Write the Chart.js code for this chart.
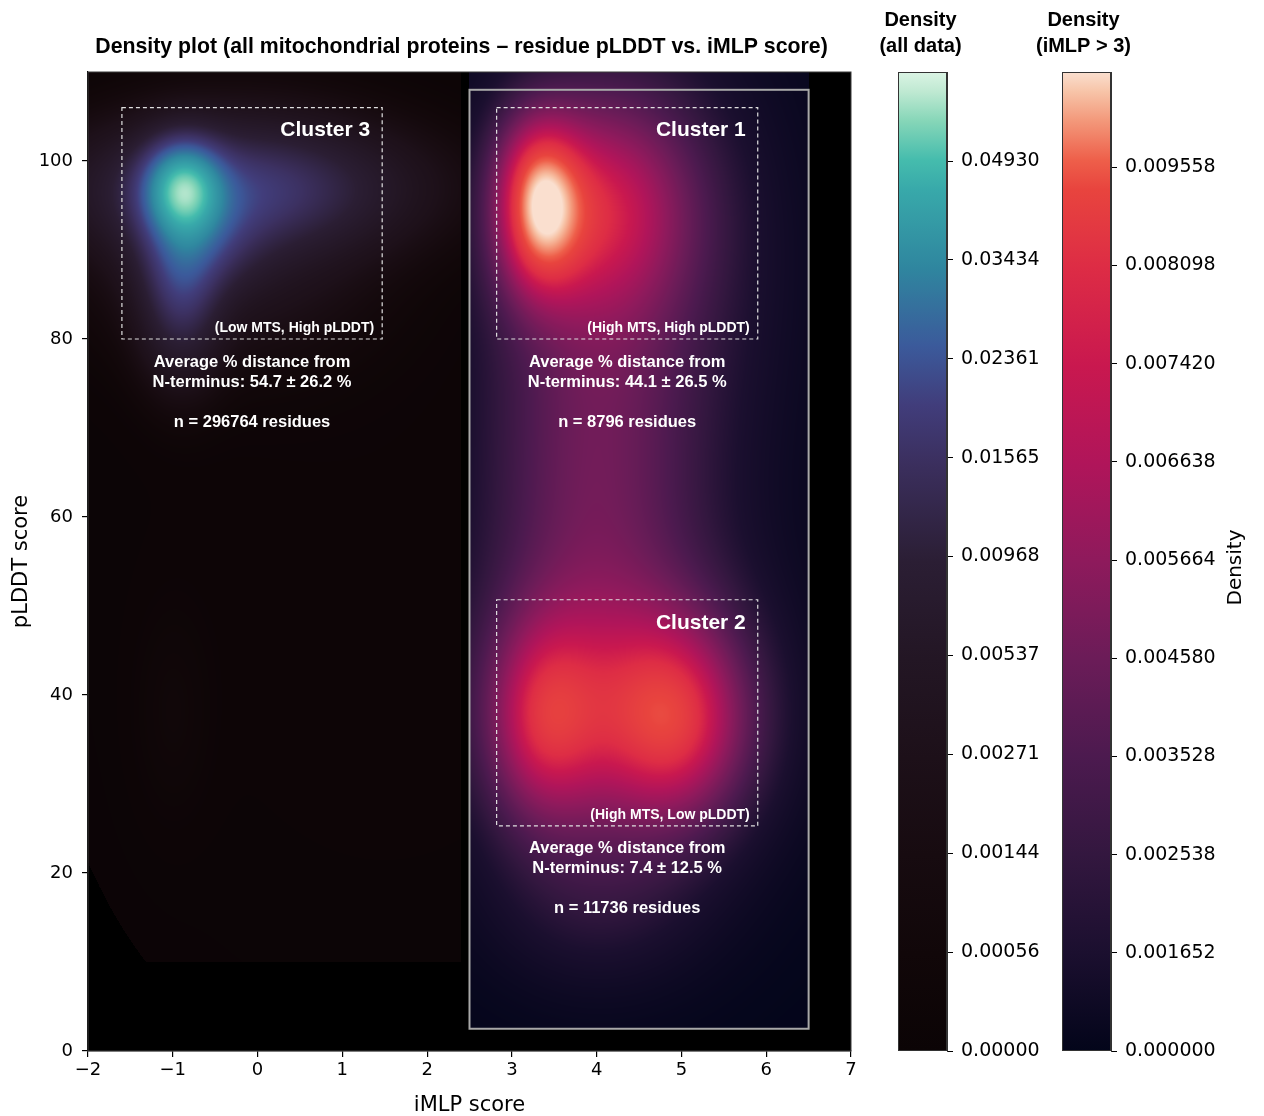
<!DOCTYPE html>
<html>
<head>
<meta charset="utf-8">
<script src="https://cdn.jsdelivr.net/npm/chart.js@4.4.1/dist/chart.umd.min.js"></script>
<style>
  html, body { margin: 0; padding: 0; background: #fff; }
  #wrap { position: relative; width: 1264px; height: 1116px; }
  canvas { position: absolute; top: 0; }
  #main { left: 0; }
  #cbAll { left: 860px; }
  #cbMlp { left: 1000px; }
</style>
</head>
<body>
<div id="wrap">
  <canvas id="main" width="880" height="1116"></canvas>
  <canvas id="cbAll" width="190" height="1116"></canvas>
  <canvas id="cbMlp" width="264" height="1116"></canvas>
</div>
<script>
// Axis ranges
const xRange = [-2, 7];
const yRange = [0, 110];
const plotTitle = 'Density plot (all mitochondrial proteins \u2013 residue pLDDT vs. iMLP score)';

// Colour bar levels (tick labels, equally spaced on the bar)
const allTicks = [0, 0.00056, 0.00144, 0.00271, 0.00537, 0.00968, 0.01565, 0.02361, 0.03434, 0.04930];
const mlpTicks = [0, 0.001652, 0.002538, 0.003528, 0.004580, 0.005664, 0.006638, 0.007420, 0.008098, 0.009558];
const allTop = 9.9;   // bar top, in level units
const mlpTop = 9.97;

// Density blobs - all data (x, y, spread x, spread y, peak)
const allBlobX    = [-0.88, -0.2, -0.7, -0.9, -0.3, -1.0, 1.5];
const allBlobY    = [97, 97, 91, 86, 92, 38, 60];
const allBlobSX   = [0.3, 1.2, 0.45, 0.3, 1.0, 0.3, 3.0];
const allBlobSY   = [3.4, 4.5, 4, 6, 8, 8, 45];
const allBlobPeak = [0.036, 0.015, 0.010, 0.014, 0.005, 0.0004, 0.0002];
const allCut = 0.00007;
const allClipX = [-2, 2.4];
const allClipY = [10, 110];

// Density blobs - iMLP > 3
const mlpBlobX    = [3.3, 3.3, 4.05, 4.3, 3.9, 3.35, 5.0, 4.15, 4.2, 4.0];
const mlpBlobY    = [98.5, 91, 95, 87, 64, 37, 37, 37.5, 38, 16];
const mlpBlobSX   = [0.36, 0.36, 0.8, 1.3, 0.9, 0.45, 0.6, 1.15, 1.4, 0.9];
const mlpBlobSY   = [5.5, 5.5, 9, 22, 15, 8, 8, 11, 16, 7];
const mlpBlobPeak = [0.0042, 0.0034, 0.0048, 0.0028, 0.0026, 0.0036, 0.0042, 0.0040, 0.0015, 0.0013];
const mlpClipX = [2.5, 6.5];
const mlpClipY = [2.5, 110];

// Cluster boxes and their texts
const clusterName  = ['Cluster 1', 'Cluster 2', 'Cluster 3'];
const clusterTag   = ['(High MTS, High pLDDT)', '(High MTS, Low pLDDT)', '(Low MTS, High pLDDT)'];
const clusterDist  = ['44.1 \u00b1 26.5 %', '7.4 \u00b1 12.5 %', '54.7 \u00b1 26.2 %'];
const clusterN     = [8796, 11736, 296764];
const boxX0 = [2.82, 2.82, -1.6];
const boxX1 = [5.9, 5.9, 1.47];
const boxY0 = [80, 25.3, 80];
const boxY1 = [106, 50.7, 106];
const mlpBoxX = [2.5, 6.5];
const mlpBoxY = [2.5, 108];

// Colour maps, as sampled from the two bars
const makoStops = [[0, '#0b0405'], [0.1, '#110709'], [0.2, '#170b10'], [0.3, '#1d1019'], [0.4, '#231624'],
  [0.5, '#2b1e34'], [0.6, '#3b2f5e'], [0.66, '#413d7b'], [0.72, '#3b5a9b'], [0.8, '#2f869f'],
  [0.88, '#38a9aa'], [0.91, '#45bcad'], [0.95, '#86d6b8'], [0.98, '#bfe9d2'], [1, '#dbf4e4']];
const rocketStops = [[0, '#03051a'], [0.1, '#1b0f2f'], [0.2, '#33173f'], [0.3, '#4c1a4f'], [0.4, '#6b1c58'],
  [0.5, '#8e1a5c'], [0.6, '#b0155a'], [0.7, '#c9184f'], [0.8, '#dd2c45'], [0.88, '#e8443e'],
  [0.91, '#ee5f4a'], [0.95, '#f3987a'], [0.98, '#f7c4a8'], [1, '#fadfcf']];

Chart.defaults.font.family = 'DejaVu Sans';
Chart.defaults.color = '#000';

function hexRgb(h) {
  return [parseInt(h.slice(1, 3), 16), parseInt(h.slice(3, 5), 16), parseInt(h.slice(5, 7), 16)];
}
const makoRgb = makoStops.map(s => [s[0], hexRgb(s[1])]);
const rocketRgb = rocketStops.map(s => [s[0], hexRgb(s[1])]);

function colourAt(stops, p) {
  p = Math.max(0, Math.min(1, p));
  for (let k = 1; k < stops.length; k++) {
    if (p <= stops[k][0]) {
      const a = stops[k - 1], b = stops[k];
      const t = (p - a[0]) / (b[0] - a[0]);
      return [0, 1, 2].map(i => a[1][i] + (b[1][i] - a[1][i]) * t);
    }
  }
  return stops[stops.length - 1][1];
}

function density(bx, by, bsx, bsy, bp, xv, yv) {
  let d = 0;
  for (let k = 0; k < bx.length; k++) {
    const u = (xv - bx[k]) / bsx[k], v = (yv - by[k]) / bsy[k];
    d += bp[k] * Math.exp(-0.5 * (u * u + v * v));
  }
  return d;
}

// density -> position on the colour bar (level units)
function level(d, ticks, top) {
  const n = ticks.length;
  if (d >= ticks[n - 1]) return Math.min(top, n - 1 + (d - ticks[n - 1]) / (ticks[n - 1] - ticks[n - 2]));
  for (let k = 0; k < n - 1; k++) {
    if (d < ticks[k + 1]) return k + (d - ticks[k]) / (ticks[k + 1] - ticks[k]);
  }
  return 0;
}

const densityField = {
  id: 'densityField',
  beforeDatasetsDraw(chart) {
    const { ctx, chartArea: a, scales: { x, y } } = chart;
    const w = Math.round(a.right - a.left), h = Math.round(a.bottom - a.top);
    const img = ctx.createImageData(w, h);
    const xs = [], ys = [];
    for (let i = 0; i < w; i++) xs.push(x.getValueForPixel(a.left + i + 0.5));
    for (let j = 0; j < h; j++) ys.push(y.getValueForPixel(a.top + j + 0.5));
    for (let j = 0; j < h; j++) {
      const yv = ys[j];
      for (let i = 0; i < w; i++) {
        const xv = xs[i];
        let c = [0, 0, 0];
        if (xv >= allClipX[0] && xv <= allClipX[1] && yv >= allClipY[0] && yv <= allClipY[1]) {
          const d = density(allBlobX, allBlobY, allBlobSX, allBlobSY, allBlobPeak, xv, yv);
          if (d > allCut) c = colourAt(makoRgb, level(d, allTicks, allTop) / allTop);
        } else if (xv >= mlpClipX[0] && xv <= mlpClipX[1] && yv >= mlpClipY[0] && yv <= mlpClipY[1]) {
          const d = density(mlpBlobX, mlpBlobY, mlpBlobSX, mlpBlobSY, mlpBlobPeak, xv, yv);
          c = colourAt(rocketRgb, level(d, mlpTicks, mlpTop) / mlpTop);
        }
        const o = (j * w + i) * 4;
        img.data[o] = c[0]; img.data[o + 1] = c[1]; img.data[o + 2] = c[2]; img.data[o + 3] = 255;
      }
    }
    ctx.putImageData(img, Math.round(a.left), Math.round(a.top));
  }
};

const clusterLabels = {
  id: 'clusterLabels',
  afterDatasetsDraw(chart) {
    const { ctx, chartArea: a, scales: { x, y } } = chart;
    ctx.save();
    // outer box of the iMLP > 3 region
    ctx.strokeStyle = '#a8a8a8';
    ctx.lineWidth = 2;
    ctx.strokeRect(x.getPixelForValue(mlpBoxX[0]), y.getPixelForValue(mlpBoxY[1]),
      x.getPixelForValue(mlpBoxX[1]) - x.getPixelForValue(mlpBoxX[0]),
      y.getPixelForValue(mlpBoxY[0]) - y.getPixelForValue(mlpBoxY[1]));

    for (let k = 0; k < clusterName.length; k++) {
      const l = x.getPixelForValue(boxX0[k]), r = x.getPixelForValue(boxX1[k]);
      const t = y.getPixelForValue(boxY1[k]), b = y.getPixelForValue(boxY0[k]);
      ctx.setLineDash([4, 3]);
      ctx.strokeStyle = '#e0e0e0';
      ctx.lineWidth = 1.2;
      ctx.strokeRect(l, t, r - l, b - t);
      ctx.setLineDash([]);
      ctx.fillStyle = '#fff';
      ctx.textBaseline = 'middle';
      ctx.textAlign = 'right';
      ctx.font = 'bold 21px "Liberation Sans", Arial, sans-serif';
      ctx.fillText(clusterName[k], r - 12, t + 23);
      ctx.font = 'bold 14px "Liberation Sans", Arial, sans-serif';
      ctx.fillText(clusterTag[k], r - 8, b - 11);
      ctx.textAlign = 'center';
      ctx.font = 'bold 16.5px "Liberation Sans", Arial, sans-serif';
      const cx = (l + r) / 2;
      ctx.fillText('Average % distance from', cx, b + 23);
      ctx.fillText('N-terminus: ' + clusterDist[k], cx, b + 43);
      ctx.fillText('n = ' + clusterN[k] + ' residues', cx, b + 83);
    }
    // thin frame round the plot
    ctx.strokeStyle = '#3a3a3a';
    ctx.lineWidth = 1;
    ctx.strokeRect(a.left, a.top, a.right - a.left, a.bottom - a.top);

    // figure title, centred a little left of the plot centre as in the original
    ctx.fillStyle = '#000';
    ctx.textAlign = 'center';
    ctx.textBaseline = 'middle';
    ctx.font = 'bold 21.3px "Liberation Sans", Arial, sans-serif';
    ctx.fillText(plotTitle, (a.left + a.right) / 2 - 8, 47);
    ctx.restore();
  }
};

const axisTick = { color: '#000', font: { size: 18 } };
const axisGrid = { drawOnChartArea: false, drawTicks: true, tickLength: 6, color: '#000', lineWidth: 1.2 };

new Chart(document.getElementById('main'), {
  type: 'scatter',
  data: { datasets: [] },
  options: {
    responsive: false,
    animation: false,
    devicePixelRatio: 1,
    layout: { padding: { left: 0, right: 29, top: 72, bottom: 0 } },
    plugins: {
      legend: { display: false },
      tooltip: { enabled: false },
      title: { display: false }
    },
    scales: {
      x: {
        type: 'linear', min: xRange[0], max: xRange[1],
        afterFit(s) { s.height = 65; },
        ticks: Object.assign({}, axisTick, { stepSize: 1, padding: 3,
          callback: v => (v < 0 ? '\u2212' + Math.abs(v) : '' + v) }),
        grid: axisGrid,
        border: { display: true, color: '#000', width: 1.2 },
        title: { display: true, text: 'iMLP score', color: '#000', font: { size: 21, lineHeight: 1 }, padding: { top: 0, bottom: 0 } }
      },
      y: {
        type: 'linear', min: yRange[0], max: yRange[1],
        afterFit(s) { s.width = 88; },
        ticks: Object.assign({}, axisTick, { stepSize: 20, padding: 9, includeBounds: false }),
        grid: axisGrid,
        border: { display: true, color: '#000', width: 1.2 },
        title: { display: true, text: 'pLDDT score', color: '#000', font: { size: 21, lineHeight: 1.2 }, padding: { top: 9, bottom: 0 } }
      }
    }
  },
  plugins: [densityField, clusterLabels]
});

const barFrame = {
  id: 'barFrame',
  afterDatasetsDraw(chart) {
    const { ctx, chartArea: a } = chart;
    const o = chart.options.plugins.barText;
    ctx.save();
    ctx.strokeStyle = '#333';
    ctx.lineWidth = 1;
    ctx.strokeRect(a.left + 0.5, a.top + 0.5, a.right - a.left - 1, a.bottom - a.top - 1);
    ctx.fillStyle = '#000';
    ctx.textAlign = 'center';
    ctx.textBaseline = 'middle';
    ctx.font = 'bold 20px "Liberation Sans", Arial, sans-serif';
    const cx = (a.left + a.right) / 2 + o.shift;
    o.heading.forEach((line, i) => ctx.fillText(line, cx, 20 + i * 26));
    if (o.side) {
      ctx.translate(o.sideX, (a.top + a.bottom) / 2 + 6);
      ctx.rotate(-Math.PI / 2);
      ctx.font = '20px "DejaVu Sans"';
      ctx.fillText(o.side, 0, 0);
    }
    ctx.restore();
  }
};

function colourBar(id, ticks, top, stops, digits, heading, shift, padLeft, axisWidth, side, sideX) {
  return new Chart(document.getElementById(id), {
    type: 'bar',
    data: {
      labels: [''],
      datasets: [{
        data: [top],
        borderWidth: 0,
        barPercentage: 1,
        categoryPercentage: 1,
        backgroundColor(c) {
          const a = c.chart.chartArea;
          if (!a) return stops[0][1];
          const g = c.chart.ctx.createLinearGradient(0, a.bottom, 0, a.top);
          stops.forEach(s => g.addColorStop(s[0], s[1]));
          return g;
        }
      }]
    },
    options: {
      responsive: false,
      animation: false,
      devicePixelRatio: 1,
      layout: { padding: { left: padLeft, right: 0, top: 72, bottom: 65 } },
      plugins: {
        legend: { display: false },
        tooltip: { enabled: false },
        title: { display: false },
        barText: { heading: heading, shift: shift, side: side, sideX: sideX }
      },
      scales: {
        x: { display: false },
        y: {
          position: 'right', min: 0, max: top,
          afterFit(s) { s.width = axisWidth; },
          ticks: {
            stepSize: 1, includeBounds: false, padding: 8, color: '#000', font: { size: 19 },
            callback: v => (Number.isInteger(v) && v < ticks.length ? ticks[v].toFixed(digits) : '')
          },
          grid: { drawOnChartArea: false, drawTicks: true, tickLength: 6, color: '#000', lineWidth: 1 },
          border: { display: true, color: '#333', width: 1 }
        }
      }
    },
    plugins: [barFrame]
  });
}

colourBar('cbAll', allTicks, allTop, makoStops, 5, ['Density', '(all data)'], -2, 38, 103, '', 0);
colourBar('cbMlp', mlpTicks, mlpTop, rocketStops, 6, ['Density', '(iMLP > 3)'], -3, 62, 153, 'Density', 236);
</script>
</body>
</html>
